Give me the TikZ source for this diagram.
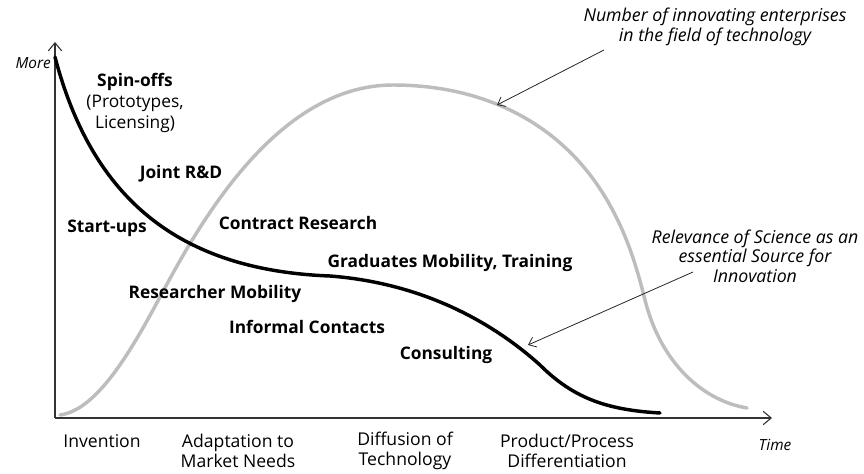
\documentclass[tikz,border=0pt]{standalone}
\usepackage{fontspec}
\setmainfont{Open Sans}
\usetikzlibrary{arrows.meta}

\begin{document}
\begin{tikzpicture}[x=0.75pt,y=-0.75pt,
    lbl/.style={font=\bfseries\fontsize{13}{15.5}\selectfont, inner sep=0pt, align=center},
    note/.style={font=\itshape\fontsize{13.3}{14.5}\selectfont, inner sep=0pt, align=center},
    stage/.style={font=\fontsize{13.2}{15}\selectfont, inner sep=0pt, align=center},
    axislbl/.style={font=\itshape\fontsize{11.5}{13}\selectfont, inner sep=0pt},
    axisline/.style={draw=black!80, line width=0.8pt},
    pointer/.style={draw=black!85, line width=0.6pt, -{Straight Barb[length=5pt,width=8pt]}}]
    \useasboundingbox (0,0) rectangle (864,474);

    % axes
    \coordinate (origin) at (55,418);
    \coordinate (ytop) at (55,42);
    \coordinate (xend) at (772,418);
    \draw[axisline, -{Straight Barb[length=6pt,width=10pt]}] (origin) -- (ytop);
    \draw[axisline, -{Straight Barb[length=6pt,width=10pt]}] (origin) -- (xend);
    \node[axislbl, anchor=east] (more) at (51,63) {More};
    \node[axislbl] (time) at (775,445) {Time};

    % number of enterprises
    \draw[line width=2.6pt, color=black!26, line cap=round]
        (60,415) .. controls (95,410) and (127,359) .. (160,297)
        .. controls (197,228) and (275,85) .. (393,85)
        .. controls (480,85) and (560,120) .. (607,200)
        .. controls (625,231) and (635,260) .. (645,300)
        .. controls (660,360) and (700,400) .. (747,408);

    % relevance of science
    \draw[line width=2.6pt, color=black, line cap=round]
        (55,57) .. controls (90,190) and (170,270) .. (330,276)
        .. controls (420,283) and (490,320) .. (540,365)
        .. controls (575,400) and (610,410) .. (660,413);

    % channels
    \node[lbl] (spin) at (135,103) {Spin-offs\\{\mdseries(Prototypes,}\\{\mdseries Licensing)}};
    \node[lbl] (joint) at (181,174) {Joint R\&D};
    \node[lbl] (start) at (107,228) {Start-ups};
    \node[lbl] (contract) at (298,223) {Contract Research};
    \node[lbl] (grad) at (450,263) {Graduates Mobility, Training};
    \node[lbl] (research) at (215,294) {Researcher Mobility};
    \node[lbl] (informal) at (307,327) {Informal Contacts};
    \node[lbl] (consult) at (446,355) {Consulting};

    % stages
    \node[stage] (inv) at (102,441) {Invention};
    \node[stage] (adapt) at (238,451) {Adaptation to\\Market Needs};
    \node[stage] (diff) at (405,451) {Diffusion of\\Technology};
    \node[stage] (prod) at (567,451) {Product/Process\\Differentiation};

    % annotations
    \node[note] (number) at (715,27) {Number of innovating enterprises\\in the field of technology};
    \node[note] (relevance) at (755,256) {Relevance of Science as an\\essential Source for\\Innovation};
    \coordinate (numtip) at (497,105);
    \coordinate (reltip) at (528,345);
    \draw[pointer] (604,50) -- (numtip);
    \draw[pointer] (693,272) -- (reltip);
\end{tikzpicture}
\end{document}
